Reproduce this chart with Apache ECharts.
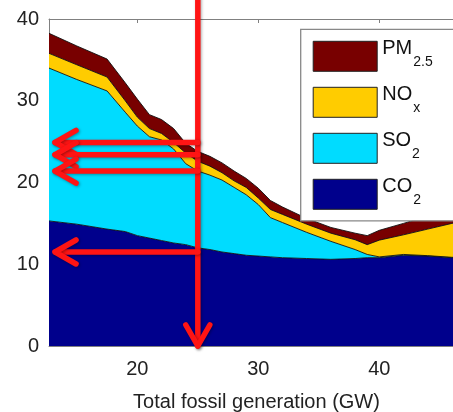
<!DOCTYPE html>
<html>
<head>
<meta charset="utf-8">
<script src="https://cdn.jsdelivr.net/npm/echarts@6/dist/echarts.min.js"></script>
<style>
  html, body { margin: 0; padding: 0; background: #fff; }
  #chart { width: 453px; height: 412px; }
</style>
</head>
<body>
<div id="chart"></div>
<script>
// Total fossil generation (GW)
const generation = [12.7, 15, 17.5, 19, 20, 21, 22, 23, 24, 25, 26, 27, 28, 29, 30, 31, 32, 34, 36, 38, 39, 40, 42, 44, 46, 47];

// Stacked damage layers, bottom to top
const co2  = [15.3, 14.9, 14.3, 14.0, 13.5, 13.2, 12.9, 12.6, 12.4, 12.0, 11.8, 11.5, 11.3, 11.1, 11.0, 10.9, 10.8, 10.7, 10.6, 10.7, 10.8, 10.8, 11.1, 11.0, 10.8, 10.8];
const so2  = [18.7, 17.7, 16.9, 14.6, 13.4, 12.4, 12.3, 11.5, 9.9, 9.4, 9.1, 8.8, 8.1, 7.4, 6.3, 4.8, 4.3, 3.2, 2.2, 1.1, 0.4, 0.1, 0.1, 0.05, 0.05, 0.05];
const nox  = [1.8, 1.8, 1.7, 1.4, 1.1, 1.0, 0.8, 0.8, 1.3, 1.2, 1.1, 0.9, 0.8, 0.9, 0.8, 1.0, 1.0, 1.0, 1.0, 1.2, 1.2, 2.05, 2.4, 3.25, 4.15, 4.45];
const pm25 = [2.45, 2.3, 2.2, 2.2, 2.2, 1.7, 1.7, 1.7, 1.2, 1.2, 1.2, 1.2, 1.2, 1.1, 1.2, 1.1, 0.9, 0.7, 0.7, 0.8, 1.1, 1.2, 1.4, 1.6, 1.6, 1.6];

// Axis ticks
const xTicks = [20, 30, 40];
const yTicks = [0, 10, 20, 30, 40];

// Reading guides: a vertical drop at the selected generation level and
// horizontal arrows back to the value axis at each stacked boundary
const selectedGen = 25;
const guideTop = 43;
const guideTipX = 13.2;
const guideLevels = [24.9, 23.4, 21.4, 11.5];

const colors = {
  pm: '#780000',
  nox: '#ffcc00',
  so2: '#00dcff',
  co2: '#00008c'
};

const font = "'Liberation Sans', Arial, Helvetica, sans-serif";

// value first so that stacking runs along the value dimension
function rows(vals) {
  return generation.map((g, i) => [vals[i], g]);
}

function layer(name, vals, color) {
  return {
    name: name,
    type: 'line',
    stack: 'damages',
    symbol: 'none',
    data: rows(vals),
    encode: { x: 1, y: 0 },
    color: color,
    lineStyle: { color: '#111', width: 0.9 },
    areaStyle: { color: color, opacity: 1 },
    emphasis: { disabled: true },
    z: 2
  };
}

const guides = [[selectedGen, guideTop, selectedGen, 0]].concat(
  guideLevels.map(v => [selectedGen, v, guideTipX, v])
);

const chart = echarts.init(document.getElementById('chart'), null, { renderer: 'canvas' });

chart.setOption({
  animation: false,
  backgroundColor: '#fff',
  grid: { left: 49, top: 19, bottom: 66, right: -11, outerBoundsMode: 'none', containLabel: false },
  xAxis: [
    {
      type: 'value', min: 12.7, max: 47, position: 'bottom',
      name: 'Total fossil generation (GW)',
      nameLocation: 'middle', nameGap: 46,
      nameTextStyle: { fontFamily: font, fontSize: 20, color: '#222' },
      axisLine: { show: true, lineStyle: { color: '#808080', width: 1 } },
      axisTick: { show: true, inside: true, length: 4, customValues: xTicks, lineStyle: { color: '#808080' } },
      axisLabel: { customValues: xTicks, margin: 13, fontFamily: font, fontSize: 20, color: '#222' },
      splitLine: { show: false }
    },
    {
      type: 'value', min: 12.7, max: 47, position: 'top',
      axisLine: { show: true, lineStyle: { color: '#808080', width: 1 } },
      axisTick: { show: true, inside: true, length: 4, customValues: xTicks, lineStyle: { color: '#808080' } },
      axisLabel: { show: false },
      splitLine: { show: false }
    }
  ],
  yAxis: {
    type: 'value', min: 0, max: 40, interval: 10,
    axisLine: { show: true, lineStyle: { color: '#808080', width: 1 } },
    axisTick: { show: true, inside: true, length: 4, customValues: yTicks, lineStyle: { color: '#808080' } },
    axisLabel: { customValues: yTicks, margin: 10, fontFamily: font, fontSize: 20, color: '#222' },
    splitLine: { show: false }
  },
  legend: {
    orient: 'vertical',
    left: 300.7, top: 29.3,
    padding: [9, 26, 8.5, 12],
    itemWidth: 64, itemHeight: 30, itemGap: 10,
    icon: 'rect',
    selectedMode: false,
    borderColor: '#888', borderWidth: 1.3,
    backgroundColor: '#fff',
    data: [
      { name: 'PM2.5', itemStyle: { color: colors.pm, borderColor: '#222', borderWidth: 1 } },
      { name: 'NOx', itemStyle: { color: colors.nox, borderColor: '#222', borderWidth: 1 } },
      { name: 'SO2', itemStyle: { color: colors.so2, borderColor: '#222', borderWidth: 1 } },
      { name: 'CO2', itemStyle: { color: colors.co2, borderColor: '#222', borderWidth: 1 } }
    ],
    formatter: function (name) {
      const parts = { 'PM2.5': ['PM', '2.5'], 'NOx': ['NO', 'x'], 'SO2': ['SO', '2'], 'CO2': ['CO', '2'] }[name];
      return '{m|' + parts[0] + '}{s|' + parts[1] + '}';
    },
    textStyle: {
      fontFamily: font,
      color: '#111',
      rich: {
        m: { fontFamily: font, fontSize: 20, color: '#111', lineHeight: 14, padding: [0, 0, 16, 0] },
        s: { fontFamily: font, fontSize: 14, color: '#111', lineHeight: 14, padding: [12, 0, 0, 1] }
      }
    },
    z: 10
  },
  series: [
    layer('CO2', co2, colors.co2),
    layer('SO2', so2, colors.so2),
    layer('NOx', nox, colors.nox),
    layer('PM2.5', pm25, colors.pm),
    {
      type: 'custom',
      name: 'guides',
      data: guides,
      encode: { x: [0, 2], y: [1, 3] },
      silent: true,
      z: 6,
      renderItem: function (params, api) {
        const p1 = api.coord([api.value(0), api.value(1)]);
        const p2 = api.coord([api.value(2), api.value(3)]);
        const dx = p2[0] - p1[0], dy = p2[1] - p1[1];
        const len = Math.sqrt(dx * dx + dy * dy) || 1;
        const ux = dx / len, uy = dy / len;
        const px = -uy, py = ux;
        const back = 21, half = 12;
        const a = [p2[0] - ux * back + px * half, p2[1] - uy * back + py * half];
        const b = [p2[0] - ux * back - px * half, p2[1] - uy * back - py * half];
        const style = {
          stroke: '#ff1414', lineWidth: 5.5, fill: null,
          lineCap: 'round', lineJoin: 'round',
          shadowColor: 'rgba(0,0,0,0.35)', shadowBlur: 3, shadowOffsetX: 1, shadowOffsetY: 1
        };
        return {
          type: 'group',
          children: [
            { type: 'line', shape: { x1: p1[0], y1: p1[1], x2: p2[0], y2: p2[1] }, style: style },
            { type: 'polyline', shape: { points: [a, p2, b] }, style: style }
          ]
        };
      }
    }
  ]
});
</script>
</body>
</html>
